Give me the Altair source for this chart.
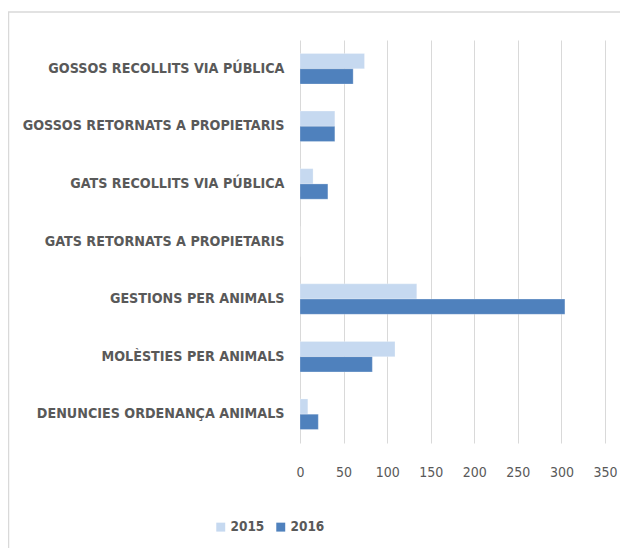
import altair as alt
import pandas as pd

categories = [
    "GOSSOS RECOLLITS VIA PÚBLICA",
    "GOSSOS RETORNATS A PROPIETARIS",
    "GATS RECOLLITS VIA PÚBLICA",
    "GATS RETORNATS A PROPIETARIS",
    "GESTIONS PER ANIMALS",
    "MOLÈSTIES PER ANIMALS\u00a0",
    "DENUNCIES ORDENANÇA ANIMALS",
]
values_2015 = [74, 40, 15, 0, 134, 109, 9]
values_2016 = [61, 40, 32, 0, 304, 83, 21]
years = ["2015", "2016"]
x_ticks = [0, 50, 100, 150, 200, 250, 300, 350]

rows = []
for c, a, b in zip(categories, values_2015, values_2016):
    rows.append({"cat": c, "year": years[0], "value": a})
    rows.append({"cat": c, "year": years[1], "value": b})
df = pd.DataFrame(rows)

FONT = "DejaVu Sans Condensed, Roboto Condensed, Liberation Sans Narrow, Roboto, sans-serif"
GRAY = "#595959"

bars = alt.Chart(df).mark_bar(stroke="white", strokeOpacity=0.5, strokeWidth=0.5).encode(
    x=alt.X("value:Q", scale=alt.Scale(domain=[0, 350], nice=False),
            axis=alt.Axis(values=x_ticks, title=None, domain=False, ticks=False,
                          grid=True, gridColor="#d9d9d9", gridWidth=1,
                          labelFont=FONT, labelFontSize=14, labelColor=GRAY,
                          labelPadding=22, labelFlush=False)),
    y=alt.Y("cat:N", sort=categories,
            scale=alt.Scale(paddingInner=0.47, paddingOuter=0.235),
            axis=alt.Axis(title=None, domain=False, ticks=False, grid=False,
                          labelFont=FONT, labelFontSize=14.2, labelFontWeight="bold",
                          labelColor=GRAY, labelPadding=16, labelLimit=400)),
    yOffset=alt.YOffset("year:N", sort=years),
    color=alt.Color("year:N", sort=years,
                    scale=alt.Scale(domain=years, range=["#c6d9f0", "#4f81bd"]),
                    legend=alt.Legend(title=None, orient="none", direction="horizontal",
                                      legendX=-86, legendY=480,
                                      symbolType="square", symbolSize=80,
                                      symbolStrokeWidth=0,
                                      labelFont=FONT, labelFontSize=13.5,
                                      labelFontWeight="bold", labelColor=GRAY,
                                      columnPadding=9, labelOffset=3)),
)

frame = alt.Chart(pd.DataFrame({"k": [0]})).mark_rect(
    fill=None, stroke="#d9d9d9", strokeWidth=1.5
).encode(
    x=alt.value(-291.5), x2=alt.value(340),
    y=alt.value(-28), y2=alt.value(560),
)

chart = alt.layer(frame, bars).properties(
    width=305, height=403,
    autosize=alt.AutoSizeParams(type="none"),
    padding={"left": 292, "top": 32, "right": 15, "bottom": 105},
).configure_view(stroke=None)

chart.save("out.html", embed_options={"renderer": "svg", "actions": False})
